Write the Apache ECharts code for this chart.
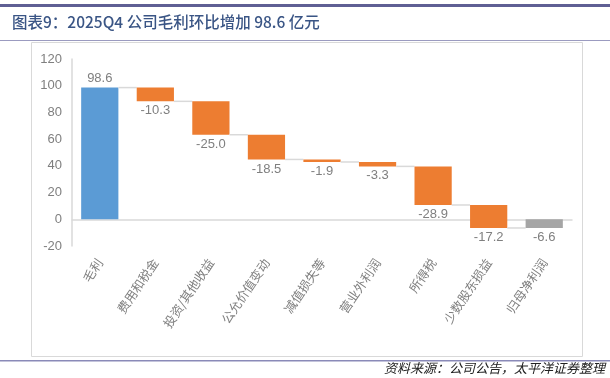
<!DOCTYPE html>
<html>
<head>
<meta charset="utf-8">
<script src="https://cdn.jsdelivr.net/npm/echarts@6/dist/echarts.min.js"></script>
<style>
  html, body { margin: 0; padding: 0; background: #fff; }
  #chart { width: 610px; height: 378px; }
</style>
</head>
<body>
<div id="chart"></div>
<script>
// 数据
const categories = ['毛利', '费用和税金', '投资/其他收益', '公允价值变动', '减值损失等', '营业外利润', '所得税', '少数股东损益', '归母净利润']
const values = [98.6, -10.3, -25.0, -18.5, -1.9, -3.3, -28.9, -17.2, -6.6]
const kinds = ['total', 'delta', 'delta', 'delta', 'delta', 'delta', 'delta', 'delta', 'net']
const yTicks = { min: -20, max: 120, interval: 20 }

const colors = { total: '#5b9bd5', delta: '#ed7d31', net: '#a5a5a5' }

// 瀑布区间 [起点, 终点]
let running = 0
const ranges = values.map((v, i) => {
  let start, end
  if (kinds[i] === 'delta') {
    start = running
    end = running + v
  } else {
    start = 0
    end = v
  }
  running = end
  return [i, start, end, v]
})

const chart = echarts.init(document.getElementById('chart'))

const option = {
  animation: false,
  grid: { left: 72, right: 38, top: 59, bottom: 132 },
  graphic: [
    { type: 'rect', shape: { x: 0, y: 4, width: 610, height: 3 }, style: { fill: '#5f5f94' } },
    {
      type: 'text', left: 12, top: 14,
      style: {
        text: '图表9：2025Q4 公司毛利环比增加 98.6 亿元',
        fill: '#3a5585', font: '500 15.5px "Noto Sans CJK SC", sans-serif'
      }
    },
    { type: 'rect', shape: { x: 0, y: 40, width: 610, height: 1 }, style: { fill: '#9b9bc0' } },
    { type: 'rect', shape: { x: 31.5, y: 42.5, width: 551, height: 314 }, style: { fill: 'none', stroke: '#d9d9d9', lineWidth: 1 } },
    { type: 'rect', shape: { x: 0, y: 360, width: 610, height: 1.5 }, style: { fill: '#8a8ab8' } },
    {
      type: 'text', right: 5, top: 362,
      style: {
        text: '资料来源：公司公告，太平洋证券整理',
        fill: '#222', font: 'italic 13px "Noto Sans CJK SC", sans-serif'
      }
    }
  ],
  xAxis: {
    type: 'category',
    data: categories,
    axisLine: { show: true, lineStyle: { color: '#d9d9d9', width: 1.5 } },
    axisTick: { show: false },
    axisLabel: {
      rotate: 56,
      interval: 0,
      color: '#7f7f7f',
      fontSize: 12.5,
      fontFamily: '"Noto Sans CJK SC"',
      margin: 14
    }
  },
  yAxis: {
    type: 'value',
    min: yTicks.min,
    max: yTicks.max,
    interval: yTicks.interval,
    axisLine: { show: true, lineStyle: { color: '#d9d9d9', width: 1.5 } },
    axisTick: { show: false },
    splitLine: { show: false },
    axisLabel: { color: '#7f7f7f', fontSize: 13, fontFamily: 'Liberation Sans', margin: 10 }
  },
  series: [{
    type: 'custom',
    data: ranges,
    encode: { x: 0, y: [1, 2] },
    renderItem: function (params, api) {
      const idx = api.value(0)
      const start = api.value(1)
      const end = api.value(2)
      const v = api.value(3)
      const band = api.size([1, 0])[0]
      const bw = band * 0.67
      const p0 = api.coord([idx, start])
      const p1 = api.coord([idx, end])
      const top = Math.min(p0[1], p1[1])
      const bottom = Math.max(p0[1], p1[1])
      const children = [{
        type: 'rect',
        shape: { x: p0[0] - bw / 2, y: top, width: bw, height: bottom - top },
        style: { fill: colors[kinds[idx]] }
      }]
      if (idx < categories.length - 1) {
        children.push({
          type: 'line',
          shape: { x1: p1[0] + bw / 2, y1: p1[1], x2: p1[0] + band - bw / 2, y2: p1[1] },
          style: { stroke: '#d9d9d9', lineWidth: 1.5 }
        })
      }
      const label = {
        type: 'text',
        style: {
          text: v.toFixed(1),
          x: p0[0],
          fill: '#7f7f7f',
          font: '13px "Liberation Sans", sans-serif',
          align: 'center'
        }
      }
      if (v >= 0) {
        label.style.y = top - 3
        label.style.verticalAlign = 'bottom'
      } else {
        label.style.y = bottom + 3
        label.style.verticalAlign = 'top'
      }
      children.push(label)
      return { type: 'group', children: children }
    }
  }]
}

chart.setOption(option)
window.addEventListener('resize', chart.resize)
</script>
</body>
</html>
